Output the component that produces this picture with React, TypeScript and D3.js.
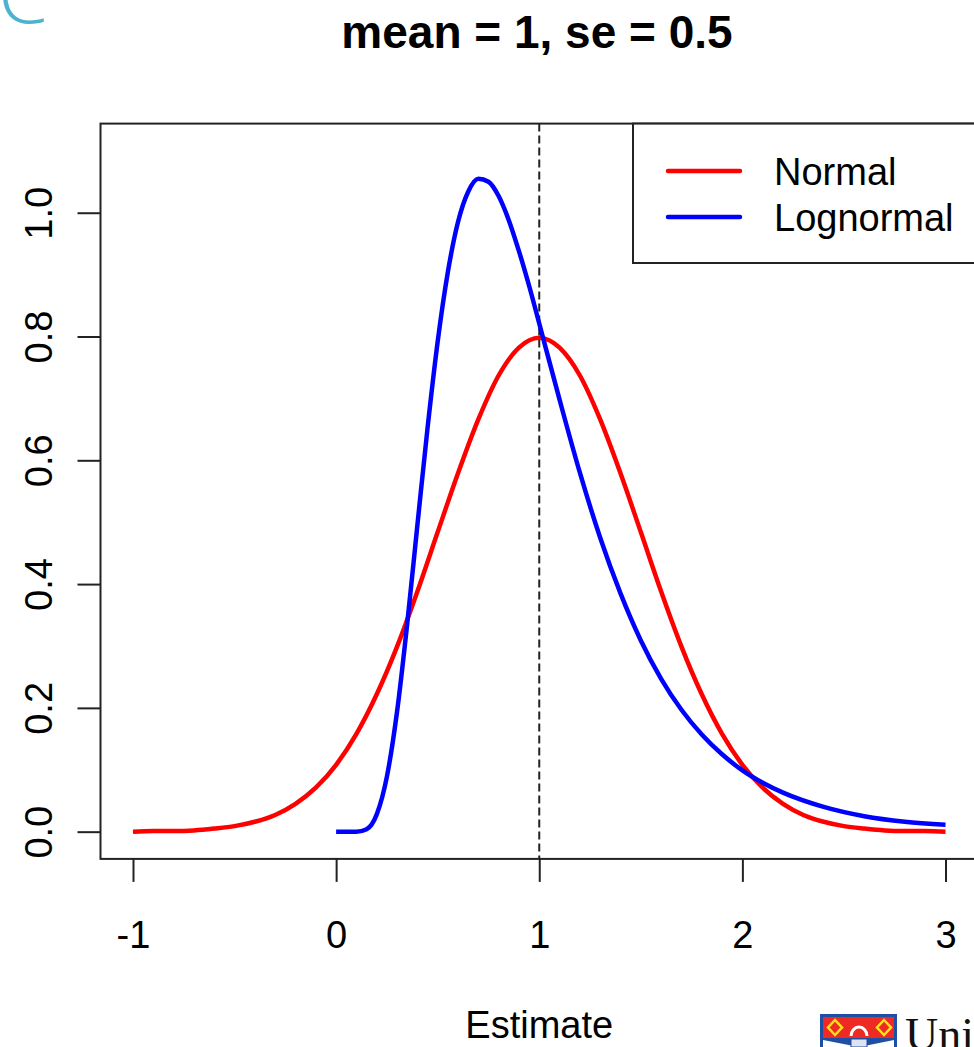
import React, { useEffect, useRef } from "react";
import * as d3 from "d3";

// density curves
const normalX = [
  -1.0, -0.9, -0.8, -0.7, -0.6, -0.5, -0.4, -0.3, -0.2, -0.1, 0.0, 0.1, 0.2,
  0.3, 0.4, 0.5, 0.6, 0.7, 0.8, 0.9, 1.0, 1.1, 1.2, 1.3, 1.4, 1.5, 1.6, 1.7,
  1.8, 1.9, 2.0, 2.1, 2.2, 2.3, 2.4, 2.5, 2.6, 2.7, 2.8, 2.9, 3.0,
];
const normalY = [
  0.0, 0.001, 0.001, 0.002, 0.005, 0.009, 0.016, 0.027, 0.045, 0.071, 0.108,
  0.158, 0.222, 0.299, 0.388, 0.484, 0.579, 0.666, 0.737, 0.782, 0.798, 0.782,
  0.737, 0.666, 0.579, 0.484, 0.388, 0.299, 0.222, 0.158, 0.108, 0.071, 0.045,
  0.027, 0.016, 0.009, 0.005, 0.002, 0.001, 0.001, 0.0,
];

const lognormalX = [
  0.0, 0.05, 0.1, 0.15, 0.2, 0.25, 0.3, 0.35, 0.4, 0.45, 0.5, 0.55, 0.6, 0.65,
  0.7, 0.75, 0.8, 0.85, 0.9, 0.95, 1.0, 1.1, 1.2, 1.3, 1.4, 1.5, 1.6, 1.7, 1.8,
  1.9, 2.0, 2.1, 2.2, 2.4, 2.6, 2.8, 3.0,
];
const lognormalY = [
  0.0, 0.0, 0.0, 0.004, 0.028, 0.089, 0.194, 0.336, 0.495, 0.652, 0.792, 0.904,
  0.985, 1.034, 1.055, 1.05, 1.027, 0.988, 0.938, 0.882, 0.821, 0.698, 0.58,
  0.475, 0.385, 0.309, 0.247, 0.197, 0.157, 0.125, 0.099, 0.079, 0.063, 0.04,
  0.025, 0.016, 0.011,
];

const xTicks = [-1, 0, 1, 2, 3];
const yTicks = [0.0, 0.2, 0.4, 0.6, 0.8, 1.0];
const legendLabels = ["Normal", "Lognormal"];
const legendColors = ["#ff0000", "#0000ff"];
const meanValue = 1;

const W = 974;
const H = 1047;
const FONT = "'Liberation Sans', Arial, sans-serif";

const App = () => {
  const ref = useRef<SVGSVGElement | null>(null);

  useEffect(() => {
    const svg = d3.select(ref.current);
    svg.selectAll("*").remove();

    const x = d3.scaleLinear().domain([-1.16, 3.16]).range([100.5, 978]);
    const y = d3.scaleLinear().domain([-0.044, 1.144]).range([858.9, 123.6]);

    // top-left panel letter (cut off by the page edge, as in the slide)
    svg
      .append("text")
      .attr("x", -2)
      .attr("y", 23)
      .style("font-family", "'Open Sans', sans-serif")
      .style("font-weight", 300)
      .style("font-size", "80px")
      .style("fill", "#4bb3cd")
      .text("C");

    // title
    svg
      .append("text")
      .attr("x", 537)
      .attr("y", 48)
      .attr("text-anchor", "middle")
      .style("font-family", FONT)
      .style("font-weight", "bold")
      .style("font-size", "46px")
      .style("fill", "#000")
      .text("mean = 1, se = 0.5");

    // dashed mean line
    svg
      .append("line")
      .attr("x1", x(meanValue))
      .attr("x2", x(meanValue))
      .attr("y1", y.range()[1])
      .attr("y2", y.range()[0])
      .style("stroke", "#222")
      .style("stroke-width", 2)
      .style("stroke-dasharray", "8,4");

    const line = d3
      .line<[number, number]>()
      .x((d) => x(d[0]))
      .y((d) => y(d[1]))
      .curve(d3.curveMonotoneX);

    const curves = [
      { xs: normalX, ys: normalY, color: legendColors[0] },
      { xs: lognormalX, ys: lognormalY, color: legendColors[1] },
    ];
    curves.forEach((c) => {
      svg
        .append("path")
        .datum(c.xs.map((v, i) => [v, c.ys[i]] as [number, number]))
        .attr("d", line)
        .style("fill", "none")
        .style("stroke", c.color)
        .style("stroke-width", 4.5)
        .style("stroke-linejoin", "round");
    });

    // plot box
    svg
      .append("rect")
      .attr("x", x.range()[0])
      .attr("y", y.range()[1])
      .attr("width", x.range()[1] - x.range()[0])
      .attr("height", y.range()[0] - y.range()[1])
      .style("fill", "none")
      .style("stroke", "#222")
      .style("stroke-width", 2);

    // x axis
    const gx = svg
      .append("g")
      .attr("transform", `translate(0,${y.range()[0]})`)
      .call(
        d3
          .axisBottom(x)
          .tickValues(xTicks)
          .tickSize(23)
          .tickSizeOuter(0)
          .tickFormat((d) => String(d))
      );
    gx.select(".domain").remove();
    gx.selectAll(".tick line").style("stroke", "#222").style("stroke-width", 2);
    gx.selectAll(".tick text")
      .attr("y", 89)
      .attr("dy", 0)
      .style("font-family", FONT)
      .style("font-size", "38px")
      .style("fill", "#000");

    // y axis
    const gy = svg
      .append("g")
      .attr("transform", `translate(${x.range()[0]},0)`)
      .call(
        d3
          .axisLeft(y)
          .tickValues(yTicks)
          .tickSize(23)
          .tickSizeOuter(0)
          .tickFormat((d) => (d as number).toFixed(1))
      );
    gy.select(".domain").remove();
    gy.selectAll(".tick line").style("stroke", "#222").style("stroke-width", 2);
    gy.selectAll(".tick text")
      .attr("x", 0)
      .attr("dy", 0)
      .attr("transform", "translate(-48.5,0) rotate(-90)")
      .attr("text-anchor", "middle")
      .style("font-family", FONT)
      .style("font-size", "38px")
      .style("fill", "#000");

    // x label
    svg
      .append("text")
      .attr("x", x(1))
      .attr("y", 1038)
      .attr("text-anchor", "middle")
      .style("font-family", FONT)
      .style("font-size", "38px")
      .style("fill", "#000")
      .text("Estimate");

    // legend
    const lg = svg.append("g");
    lg.append("rect")
      .attr("x", 633)
      .attr("y", y.range()[1])
      .attr("width", 380)
      .attr("height", 263 - y.range()[1])
      .style("fill", "#fff")
      .style("stroke", "#222")
      .style("stroke-width", 2);
    legendLabels.forEach((lab, i) => {
      const ly = 171 + i * 46;
      lg.append("line")
        .attr("x1", 668)
        .attr("x2", 740)
        .attr("y1", ly)
        .attr("y2", ly)
        .style("stroke", legendColors[i])
        .style("stroke-width", 4.5)
        .style("stroke-linecap", "round");
      lg.append("text")
        .attr("x", 774)
        .attr("y", ly + 14)
        .style("font-family", FONT)
        .style("font-size", "38px")
        .style("fill", "#000")
        .text(lab);
    });

    // university logo, cut off at bottom-right
    const logo = svg.append("g");
    logo.append("rect")
      .attr("x", 820)
      .attr("y", 1014)
      .attr("width", 77)
      .attr("height", 40)
      .style("fill", "#1f4fa3");
    logo.append("rect")
      .attr("x", 823)
      .attr("y", 1017)
      .attr("width", 71)
      .attr("height", 21)
      .style("fill", "#ee2a24");
    logo.append("path")
      .attr("d", "M823,1040 L859,1047 L894,1040 L894,1047 L823,1047 Z")
      .style("fill", "#fff");
    [835, 884].forEach((cx) => {
      logo.append("path")
        .attr("d", `M${cx},1020 L${cx + 7},1027.5 L${cx},1035 L${cx - 7},1027.5 Z`)
        .style("fill", "none")
        .style("stroke", "#ffe21a")
        .style("stroke-width", 2.5);
    });
    logo.append("path")
      .attr("d", "M851,1036 A8,9 0 1 1 867,1036")
      .style("fill", "none")
      .style("stroke", "#fff")
      .style("stroke-width", 3);
    logo.append("rect")
      .attr("x", 851)
      .attr("y", 1039)
      .attr("width", 16)
      .attr("height", 8)
      .style("fill", "#dfe4f3")
      .style("stroke", "#1f4fa3")
      .style("stroke-width", 1);
    logo.append("text")
      .attr("x", 905)
      .attr("y", 1050)
      .style("font-family", "'Liberation Serif', 'DejaVu Serif', serif")
      .style("font-size", "46px")
      .style("fill", "#111")
      .text("Uni");
  }, []);

  return (
    <svg
      ref={ref}
      width={W}
      height={H}
      style={{ position: "absolute", left: 0, top: 0, display: "block", background: "#fff" }}
    />
  );
};

export default App;
